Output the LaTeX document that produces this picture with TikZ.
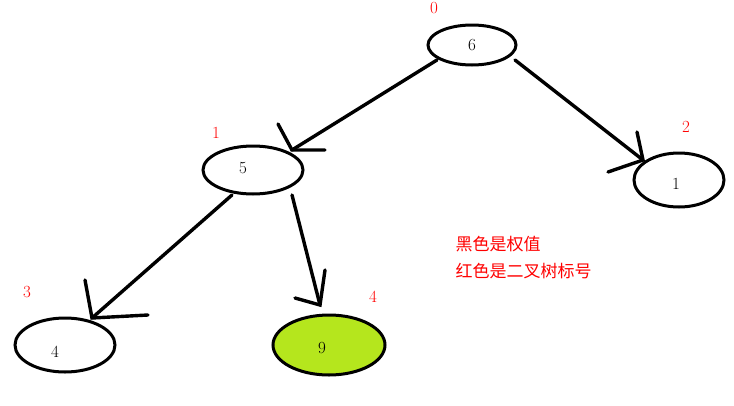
\documentclass[tikz,border=0pt]{standalone}
\usepackage{fontspec}
\newfontfamily\cjk{Noto Sans CJK SC}
\definecolor{lime}{HTML}{B5E61D}
\begin{document}
\begin{tikzpicture}[x=1pt,y=-1pt,
  nd/.style={draw,line width=3pt},
  num/.style={font=\fontsize{17}{17}\selectfont},
  lbl/.style={text=red,font=\fontsize{17}{17}\selectfont},
  edge/.style={line width=3.4pt,line cap=round}]
\useasboundingbox[fill=white] (0,0) rectangle (734,405);
\draw[nd] (472,45) ellipse [x radius=44,y radius=20];
\node[num] (n6) at (472,45) {6};
\draw[nd] (253,170) ellipse [x radius=50,y radius=24];
\node[num] (n5) at (243,168) {5};
\draw[nd] (679,180) ellipse [x radius=45,y radius=27];
\node[num] (n1) at (676,184) {1};
\draw[nd] (65,345) ellipse [x radius=50,y radius=27];
\node[num] (n4) at (55,352) {4};
\draw[nd,fill=lime] (329,345) ellipse [x radius=56,y radius=30];
\node[num] (n9) at (322,348) {9};
\node[lbl] (l0) at (434,8) {0};
\node[lbl] (l1) at (216,133) {1};
\node[lbl] (l2) at (686,127) {2};
\node[lbl] (l3) at (27,292) {3};
\node[lbl] (l4) at (373,297) {4};
\node[text=red,anchor=west,align=left,font=\cjk\fontsize{17}{27}\selectfont] (t) at (452,258) {黑色是权值\\红色是二叉树标号};
\coordinate (a1s) at (437,60); \coordinate (a1e) at (292,150);
\coordinate (a2s) at (515,60); \coordinate (a2e) at (643,160);
\coordinate (a3s) at (232,195); \coordinate (a3e) at (92,318);
\coordinate (a4s) at (292,195); \coordinate (a4e) at (320,305);
\draw[edge] (a1s) -- (a1e);
\draw[edge] (278,124) -- (a1e) -- (325,150);
\draw[edge] (a2s) -- (a2e);
\draw[edge] (608,172) -- (a2e) -- (637,132);
\draw[edge] (a3s) -- (a3e);
\draw[edge] (85,280) -- (a3e) -- (148,315);
\draw[edge] (a4s) -- (a4e);
\draw[edge] (295,298) -- (a4e) -- (325,270);
\end{tikzpicture}
\end{document}
